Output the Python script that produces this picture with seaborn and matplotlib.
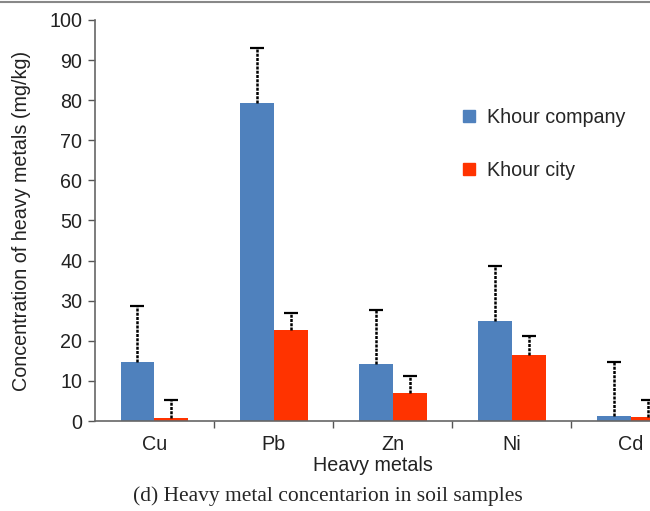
import matplotlib
matplotlib.use("Agg")
import matplotlib.pyplot as plt
import numpy as np
import pandas as pd
import seaborn as sns
from matplotlib.lines import Line2D

metals = ["Cu", "Pb", "Zn", "Ni", "Cd"]
series = ["Khour company", "Khour city"]
company_mean = [14.7, 79.3, 14.2, 24.9, 1.2]
company_err = [14.0, 13.7, 13.6, 13.8, 13.6]
city_mean = [0.8, 22.8, 7.1, 16.5, 1.0]
city_err = [4.5, 4.2, 4.2, 4.7, 4.3]
colors = ["#4F81BD", "#FF3300"]

df = pd.DataFrame({
    "metal": metals * 2,
    "site": [series[0]] * 5 + [series[1]] * 5,
    "value": company_mean + city_mean,
    "err": company_err + city_err,
})

sns.set_theme(style="white")
plt.rcParams["font.family"] = ["Liberation Sans", "DejaVu Sans"]
FS = 14.2

fig = plt.figure(figsize=(6.5, 5.11), dpi=100)
ax = fig.add_axes([0.146, 0.176, 0.854, 0.785])

sns.barplot(data=df, x="metal", y="value", hue="site", order=metals,
            hue_order=series, palette=colors, width=0.57, errorbar=None,
            saturation=1, linewidth=0, ax=ax, legend=False)

# upper-only error bars (drop the lower cap)
for cont, (_, grp) in zip(ax.containers, df.groupby("site", sort=False)):
    xs = [p.get_x() + p.get_width() / 2 for p in cont.patches]
    ys = grp["value"].to_numpy()
    es = grp["err"].to_numpy()
    eb = ax.errorbar(xs, ys, yerr=[np.zeros_like(es), es], fmt="none",
                     ecolor="black", elinewidth=1.8, capsize=5, capthick=1.6)
    eb[2][0].set_linestyle((0, (1.2, 0.5)))
    eb[1][0].set_visible(False)

ax.set_ylim(0, 100)
ax.set_yticks(np.arange(0, 101, 10))
ax.set_xlim(-0.5, 4.16)
ax.set_xticks([0.5, 1.5, 2.5, 3.5])
ax.set_xticklabels([])
for i, m in enumerate(metals):
    ax.text(i, -3.4, m, ha="center", va="top", fontsize=FS, color="#222222")
ax.tick_params(axis="y", labelsize=FS, length=5, width=1, color="#555555",
               left=True, pad=4, labelcolor="#222222")
ax.tick_params(axis="x", length=5, width=1, color="#555555", bottom=True)
ax.set_xlabel("Heavy metals", fontsize=FS, labelpad=17, color="#222222")
ax.set_ylabel("Concentration of heavy metals (mg/kg)", fontsize=FS,
              labelpad=13, color="#222222")
sns.despine(ax=ax)
for s in ("left", "bottom"):
    ax.spines[s].set_color("#666666")
    ax.spines[s].set_linewidth(1.2)

handles = [Line2D([], [], marker="s", linestyle="none", markersize=8,
                  markerfacecolor=c, markeredgecolor=c) for c in colors]
ax.legend(handles, series, loc="upper left", bbox_to_anchor=(0.625, 0.824),
          frameon=False, fontsize=FS, labelspacing=1.7, handletextpad=0.4,
          handlelength=1.0)

fig.add_artist(Line2D([0, 1], [0.997, 0.997], color="#888888", lw=1.5,
                      transform=fig.transFigure))
fig.text(0.505, 0.03, "(d) Heavy metal concentarion in soil samples",
         ha="center", va="center", fontsize=15.5, family="Liberation Serif")

fig.savefig("out.png", dpi=100)
